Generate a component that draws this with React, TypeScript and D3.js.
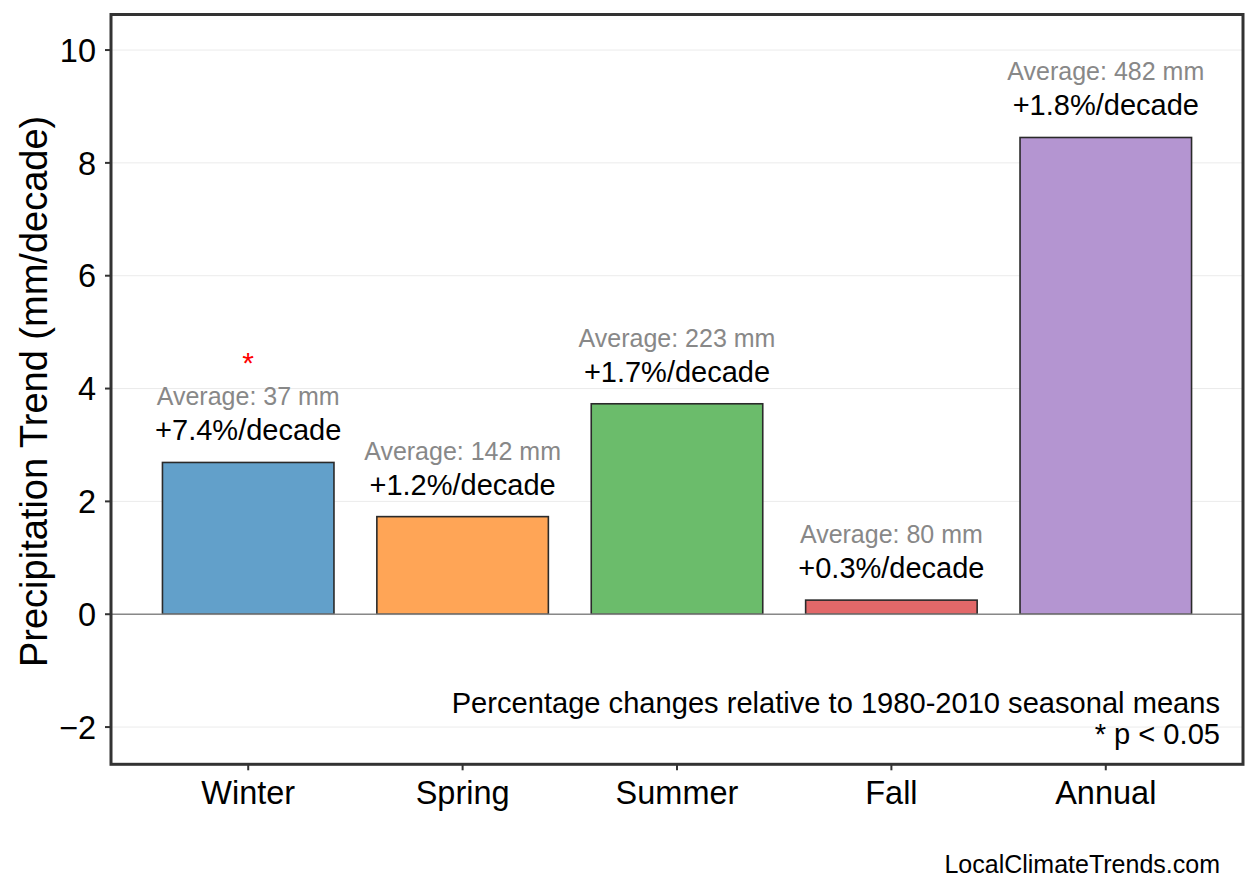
import * as d3 from "d3";

const SEASONS = ["Winter", "Spring", "Summer", "Fall", "Annual"];
const TRENDS = [2.69, 1.73, 3.73, 0.25, 8.45];
const PCT_LABELS = ["+7.4%/decade", "+1.2%/decade", "+1.7%/decade", "+0.3%/decade", "+1.8%/decade"];
const AVG_MM = [37, 142, 223, 80, 482];
const SIGNIFICANT = [true, false, false, false, false];
const Y_TICKS = [-2, 0, 2, 4, 6, 8, 10];

const COLORS = ["#62a0ca", "#ffa556", "#6bbc6b", "#e26869", "#b495d1"];

const W = 1258;
const H = 893;
const FONT = "'Liberation Sans', Arial, Helvetica, sans-serif";

export default function App() {
  const margin = { top: 14.5, right: 15, bottom: 128.7, left: 111 };
  const x0 = margin.left;
  const x1 = W - margin.right;
  const y0 = margin.top;
  const y1 = H - margin.bottom;

  const x = d3
    .scaleBand<string>()
    .domain(SEASONS)
    .range([x0, x1])
    .paddingInner(0.2)
    .paddingOuter(0.24);

  const y = d3.scaleLinear().domain([-2.66, 10.63]).range([y1, y0]);

  const bw = x.bandwidth();
  const cx = (s: string) => (x(s) ?? 0) + bw / 2;

  return (
    <svg
      width={W}
      height={H}
      style={{ position: "absolute", left: 0, top: 0, fontFamily: FONT }}
    >
      <rect width={W} height={H} fill="#fff" />

      {/* grid */}
      {Y_TICKS.map((t) => (
        <line key={"g" + t} x1={x0} x2={x1} y1={y(t)} y2={y(t)} stroke="#ebebeb" strokeWidth={1} />
      ))}

      {/* bars */}
      {SEASONS.map((s, i) => (
        <rect
          key={s}
          x={x(s)}
          y={y(Math.max(0, TRENDS[i]))}
          width={bw}
          height={Math.abs(y(0) - y(TRENDS[i]))}
          fill={COLORS[i]}
          stroke="#2a2a2a"
          strokeWidth={1.6}
        />
      ))}

      {/* zero line */}
      <line x1={x0} x2={x1} y1={y(0)} y2={y(0)} stroke="#888" strokeWidth={1.6} />

      {/* annotations */}
      {SEASONS.map((s, i) => {
        const top = y(TRENDS[i]);
        return (
          <g key={"a" + s} textAnchor="middle">
            <text x={cx(s)} y={top - 22} fontSize={29} fill="#000">
              {PCT_LABELS[i]}
            </text>
            <text x={cx(s)} y={top - 57} fontSize={25} fill="#888">
              {`Average: ${AVG_MM[i]} mm`}
            </text>
            {SIGNIFICANT[i] && (
              <text x={cx(s)} y={top - 89} fontSize={30} fill="#ff0000">
                *
              </text>
            )}
          </g>
        );
      })}

      {/* notes */}
      <text x={1220} y={713} fontSize={29.1} textAnchor="end" fill="#000">
        Percentage changes relative to 1980-2010 seasonal means
      </text>
      <text x={1220} y={744} fontSize={29.1} textAnchor="end" fill="#000">
        * p &lt; 0.05
      </text>

      {/* frame */}
      <rect x={x0} y={y0} width={x1 - x0} height={y1 - y0} fill="none" stroke="#333" strokeWidth={3} />

      {/* y axis */}
      {Y_TICKS.map((t) => (
        <g key={"y" + t}>
          <line x1={x0 - 6} x2={x0} y1={y(t)} y2={y(t)} stroke="#333" strokeWidth={2} />
          <text x={x0 - 15} y={y(t)} dy="0.36em" fontSize={32.5} textAnchor="end" fill="#000">
            {t < 0 ? "\u2212" + Math.abs(t) : t}
          </text>
        </g>
      ))}

      {/* x axis */}
      {SEASONS.map((s) => (
        <g key={"x" + s}>
          <line x1={cx(s)} x2={cx(s)} y1={y1} y2={y1 + 6} stroke="#333" strokeWidth={2} />
          <text x={cx(s)} y={804} fontSize={32.5} textAnchor="middle" fill="#000">
            {s}
          </text>
        </g>
      ))}

      <text
        transform={`translate(47,${(y0 + y1) / 2 + 2}) rotate(-90)`}
        fontSize={38}
        textAnchor="middle"
        fill="#000"
      >
        Precipitation Trend (mm/decade)
      </text>

      <text x={1220} y={873} fontSize={25} textAnchor="end" fill="#000">
        LocalClimateTrends.com
      </text>
    </svg>
  );
}
